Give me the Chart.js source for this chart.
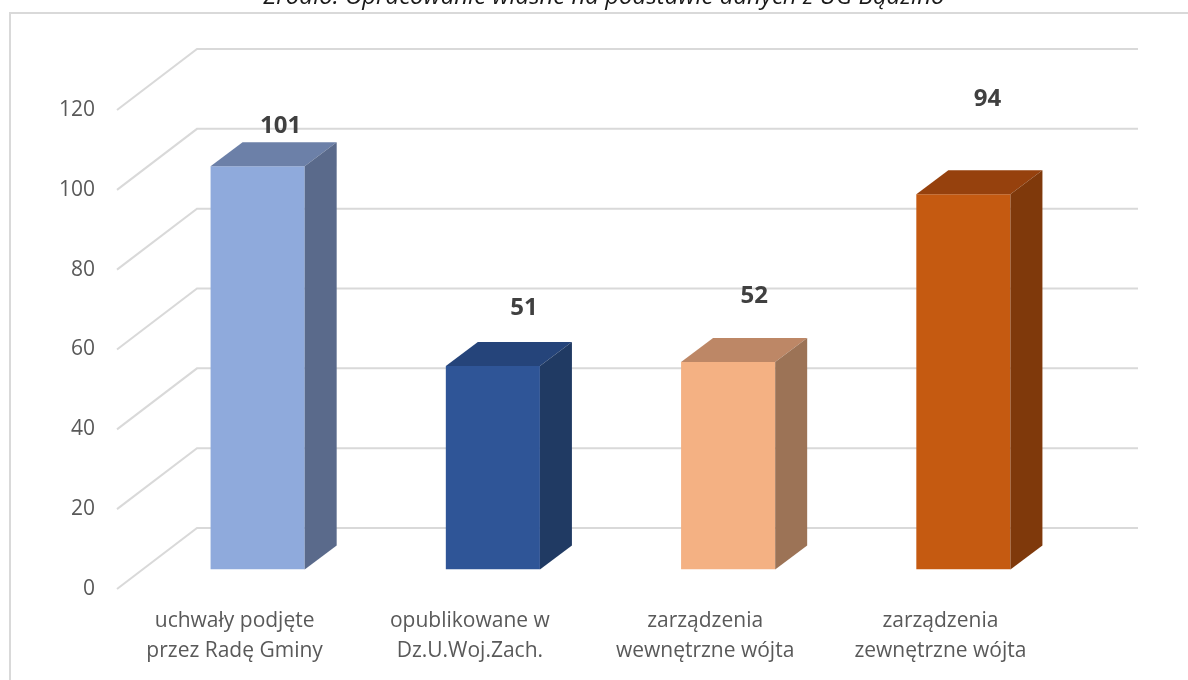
<!DOCTYPE html>
<html lang="pl">
<head>
<meta charset="utf-8">
<title>Uchwały i zarządzenia</title>
<script src="https://cdn.jsdelivr.net/npm/chart.js@4.4.1/dist/chart.umd.min.js"></script>
<style>
  html, body { margin: 0; padding: 0; background: #ffffff; }
  #chart { display: block; }
</style>
</head>
<body>
<canvas id="chart" width="1188" height="680"></canvas>
<script>
// Categories and values
const categories = [
  ['uchwały podjęte', 'przez Radę Gminy'],
  ['opublikowane w', 'Dz.U.Woj.Zach.'],
  ['zarządzenia', 'wewnętrzne wójta'],
  ['zarządzenia', 'zewnętrzne wójta']
];
const values = [101, 51, 52, 94];
const yTicks = [0, 20, 40, 60, 80, 100, 120];
const sourceNote = 'Źródło: Opracowanie własne na podstawie danych z UG Bądzino';

// Face colours of each column: front, top, right side
const frontColors = ['#8FAADC', '#2F5597', '#F4B183', '#C55A11'];
const topColors   = ['#6C80A8', '#25447A', '#BD8766', '#96410D'];
const sideColors  = ['#5A6A8B', '#203A63', '#9C7356', '#7F390B'];

// Perspective of the 3D box
const WALL_DX = 80, WALL_DY = -61;      // depth of floor / side wall
const FRONT_DX = 23, FRONT_DY = -19.5;  // where the column front face sits
const BAR_DX = 32, BAR_DY = -24;        // depth of each column

const gridColor = '#D9D9D9';

const framePlugin = {
  id: 'frame',
  beforeDraw(chart) {
    const ctx = chart.ctx;
    ctx.save();
    ctx.fillStyle = '#ffffff';
    ctx.fillRect(0, 0, chart.width, chart.height);
    // outer frame (top and left edge)
    ctx.strokeStyle = gridColor;
    ctx.lineWidth = 2;
    ctx.beginPath();
    ctx.moveTo(10, chart.height);
    ctx.lineTo(10, 13);
    ctx.lineTo(chart.width, 13);
    ctx.stroke();
    // source note
    ctx.fillStyle = '#1a1a1a';
    ctx.font = 'italic 24px "Open Sans"';
    ctx.textAlign = 'center';
    ctx.textBaseline = 'alphabetic';
    ctx.fillText(sourceNote, 604, 4);
    ctx.restore();
  }
};

const box3dPlugin = {
  id: 'box3d',
  beforeDatasetsDraw(chart) {
    const ctx = chart.ctx;
    const { left, right } = chart.chartArea;
    const y = chart.scales.y;
    ctx.save();
    ctx.strokeStyle = gridColor;
    ctx.lineWidth = 2;
    yTicks.forEach(v => {
      const py = y.getPixelForValue(v);
      ctx.beginPath();
      ctx.moveTo(left, py);
      ctx.lineTo(left + WALL_DX, py + WALL_DY);
      ctx.lineTo(right + WALL_DX, py + WALL_DY);
      ctx.stroke();
    });
    ctx.restore();
    // columns are drawn pushed back into the box
    ctx.save();
    ctx.translate(FRONT_DX, FRONT_DY);
  },
  afterDatasetsDraw(chart, args, opts) {
    const ctx = chart.ctx;
    ctx.restore();
    const meta = chart.getDatasetMeta(0);
    ctx.save();
    meta.data.forEach((bar, i) => {
      const p = bar.getProps(['x', 'y', 'width', 'base'], true);
      const l = p.x - p.width / 2 + FRONT_DX;
      const r = p.x + p.width / 2 + FRONT_DX;
      const t = p.y + FRONT_DY;
      const b = p.base + FRONT_DY;
      // top face
      ctx.fillStyle = topColors[i];
      ctx.beginPath();
      ctx.moveTo(l, t);
      ctx.lineTo(r, t);
      ctx.lineTo(r + BAR_DX, t + BAR_DY);
      ctx.lineTo(l + BAR_DX, t + BAR_DY);
      ctx.closePath();
      ctx.fill();
      // right side face
      ctx.fillStyle = sideColors[i];
      ctx.beginPath();
      ctx.moveTo(r, t);
      ctx.lineTo(r + BAR_DX, t + BAR_DY);
      ctx.lineTo(r + BAR_DX, b + BAR_DY);
      ctx.lineTo(r, b);
      ctx.closePath();
      ctx.fill();
      // value label
      const n = opts.labelNudge[i];
      ctx.fillStyle = '#404040';
      ctx.font = 'bold 24px "Open Sans"';
      ctx.textAlign = 'center';
      ctx.textBaseline = 'middle';
      ctx.fillText(String(values[i]), (l + r) / 2 + n[0], t + n[1]);
    });
    ctx.restore();
  }
};

new Chart(document.getElementById('chart'), {
  type: 'bar',
  data: {
    labels: categories,
    datasets: [{
      data: values,
      backgroundColor: frontColors,
      borderWidth: 0,
      categoryPercentage: 1,
      barPercentage: 0.4
    }]
  },
  options: {
    responsive: false,
    devicePixelRatio: 1,
    animation: false,
    events: [],
    layout: { padding: { top: 110, right: 130, left: 0, bottom: 0 } },
    plugins: {
      legend: { display: false },
      tooltip: { enabled: false },
      box3d: { labelNudge: [[23, -40], [31, -58], [26, -66], [24, -95]] }
    },
    scales: {
      x: {
        grid: { display: false, drawTicks: false },
        border: { display: false },
        ticks: {
          color: '#595959',
          font: { family: '"Open Sans"', size: 21, lineHeight: 30 / 21 },
          padding: 17,
          maxRotation: 0,
          autoSkip: false
        },
        afterFit(scale) { scale.height = 91; }
      },
      y: {
        min: 0,
        max: 120,
        grid: { display: false, drawTicks: false },
        border: { display: false },
        ticks: {
          stepSize: 20,
          color: '#595959',
          font: { family: '"Open Sans"', size: 21 },
          padding: 22
        },
        afterFit(scale) { scale.width = 117; }
      }
    }
  },
  plugins: [framePlugin, box3dPlugin]
});
</script>
</body>
</html>
